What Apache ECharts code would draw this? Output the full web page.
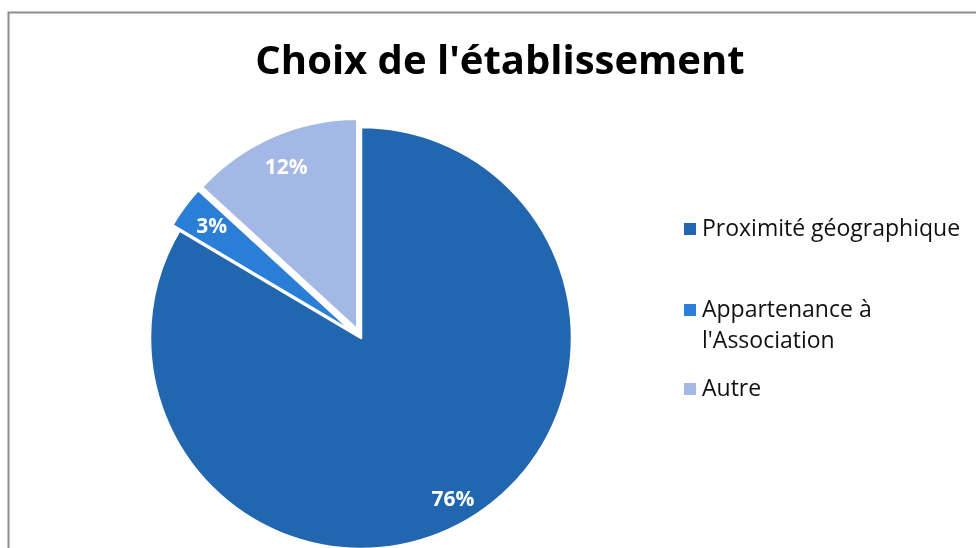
<!DOCTYPE html>
<html>
<head>
<meta charset="utf-8">
<script src="https://cdn.jsdelivr.net/npm/echarts@6/dist/echarts.min.js"></script>
<style>
  html, body { margin: 0; padding: 0; background: #fff; }
  #chart { width: 976px; height: 548px; }
</style>
</head>
<body>
<div id="chart"></div>
<script>
// data
var categories = ["Proximité géographique", "Appartenance à\nl'Association", "Autre"];
var values = [76, 3, 12];
var colors = ["#2166ae", "#2a7ed6", "#a3b8e4"];
var exploded = [false, true, true];

var FONT = "Open Sans";

var pieData = categories.map(function (name, i) {
    return {
        name: name,
        value: values[i],
        selected: exploded[i],
        itemStyle: { color: colors[i] }
    };
});

// label-only ring so the percentages sit near the rim like the original
var labelData = categories.map(function (name, i) {
    return { name: name, value: values[i] };
});

function makeLegend(name, top, topAligned) {
    return {
        orient: "vertical",
        left: 682,
        top: top,
        padding: 0,
        itemWidth: 14,
        itemHeight: 14,
        itemGap: 8,
        icon: "rect",
        selectedMode: false,
        data: [name],
        // blank first line keeps the icon on the first text line
        formatter: topAligned ? function (n) { return " \n" + n; } : "{name}",
        textStyle: {
            fontFamily: FONT,
            fontSize: 23,
            color: "#111",
            lineHeight: 31
        }
    };
}

var chart = echarts.init(document.getElementById("chart"));
var option = {
    animation: false,
    color: colors,
    title: {
        text: "Choix de l'établissement",
        left: 500,
        textAlign: "center",
        top: 43,
        padding: 0,
        textStyle: {
            fontFamily: FONT,
            fontSize: 40,
            fontWeight: "bold",
            color: "#000"
        }
    },
    legend: [
        makeLegend(categories[0], 213.5),
        makeLegend(categories[1], 263.5, true),
        makeLegend(categories[2], 373.5)
    ],
    graphic: [{
        type: "rect",
        shape: { x: 8.5, y: 12.5, width: 1000, height: 600 },
        style: { fill: null, stroke: "#8c8c8c", lineWidth: 2 },
        silent: true,
        z: -1
    }],
    series: [
        {
            type: "pie",
            center: [361, 338],
            radius: [0, 211],
            startAngle: 90,
            clockwise: true,
            selectedMode: "multiple",
            selectedOffset: 9,
            itemStyle: { borderColor: "#fff", borderWidth: 2.5 },
            label: { show: false },
            labelLine: { show: false },
            emphasis: { disabled: true },
            data: pieData
        },
        {
            type: "pie",
            silent: true,
            center: [361, 338],
            radius: [156, 210],
            startAngle: 90,
            clockwise: true,
            selectedMode: false,
            itemStyle: { color: "rgba(0,0,0,0)", borderWidth: 0 },
            label: {
                show: true,
                position: "inside",
                formatter: "{c}%",
                fontFamily: FONT,
                fontSize: 21,
                fontWeight: "bold",
                color: "#fff"
            },
            labelLine: { show: false },
            emphasis: { disabled: true },
            data: labelData
        }
    ]
};
chart.setOption(option);
</script>
</body>
</html>
